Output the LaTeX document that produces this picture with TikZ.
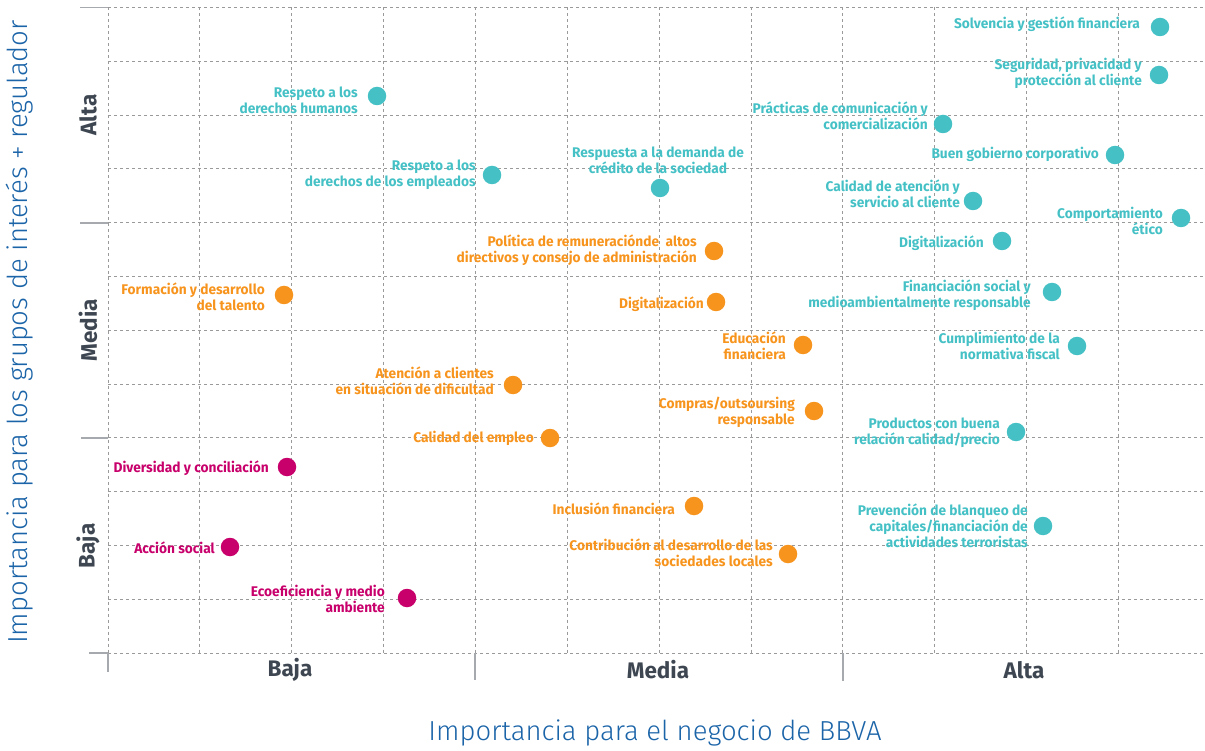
\documentclass[tikz,border=0pt]{standalone}
\usepackage{fontspec}
\setmainfont{Fira Sans}
\newfontfamily\labfont[FakeStretch=0.98]{Fira Sans}
\newfontfamily\axfont{Fira Sans}
\newfontfamily\ttlfont{Fira Sans Light}
\definecolor{cteal}{HTML}{45C1C6}
\definecolor{corange}{HTML}{F7941D}
\definecolor{cmag}{HTML}{C8006B}
\definecolor{cdark}{HTML}{3D4651}
\definecolor{cblue}{HTML}{1B64A8}
\definecolor{cgrid}{HTML}{9A9A9A}
\definecolor{ctick}{HTML}{A6A9AD}
\tikzset{
  gridline/.style={draw=cgrid, dash pattern=on 3pt off 3pt, line width=0.8pt},
  axtick/.style={draw=ctick, line width=1.6pt},
  bubble/.style={circle, minimum size=18.5pt, inner sep=0pt},
  tealb/.style={bubble, fill=cteal},
  orab/.style={bubble, fill=corange},
  magb/.style={bubble, fill=cmag},
  lab/.style={font=\labfont\bfseries\fontsize{14}{16}\selectfont, align=right, anchor=east, inner sep=0pt},
  teall/.style={lab, text=cteal},
  oral/.style={lab, text=corange},
  magl/.style={lab, text=cmag},
  axlab/.style={font=\axfont\bfseries\fontsize{22.5}{26}\selectfont, text=cdark, inner sep=0pt},
  ttl/.style={font=\ttlfont\fontsize{27.5}{32}\selectfont, text=cblue, inner sep=0pt}
}
\begin{document}
\begin{tikzpicture}[x=1pt,y=-1pt]
\useasboundingbox (0,0) rectangle (1205,751);
% grid
\foreach \i in {0,...,11} {
  \draw[gridline] ({108+91.85*\i},7.5) -- ({108+91.85*\i},653);
}
\foreach \j in {0,...,12} {
  \draw[gridline] (108,{7.5+53.79*\j}) -- (1205,{7.5+53.79*\j});
}
% axis ticks
\draw[axtick] (80,7.5) -- (108,7.5);
\draw[axtick] (80,223) -- (108,223);
\draw[axtick] (81,438) -- (108,438);
\draw[axtick] (89,653) -- (108,653);
\draw[axtick] (108,653) -- (108,672);
\draw[axtick] (475,653) -- (475,680);
\draw[axtick] (843,653) -- (843,681);
% axis labels
\node[axlab, rotate=90] (ya) at (88,115) {Alta};
\node[axlab, rotate=90] (ym) at (88,330) {Media};
\node[axlab, rotate=90] (yb) at (88,546) {Baja};
\node[axlab] (xb) at (290,670) {Baja};
\node[axlab] (xm) at (658,670) {Media};
\node[axlab] (xa) at (1024,670) {Alta};
% titles
\node[ttl] (xt) at (655,733) {Importancia para el negocio de BBVA};
\node[ttl, rotate=90] (yt) at (20,332) {Importancia para los grupos de interés + regulador};
% teal
\node[tealb] (d1) at (1160,27) {};
\node[teall] (l1) at (1140,24) {Solvencia y gestión financiera};
\node[tealb] (d2) at (1159,75) {};
\node[teall] (l2) at (1142,73) {Seguridad, privacidad y\\protección al cliente};
\node[tealb] (d3) at (943,124) {};
\node[teall] (l3) at (928,116) {Prácticas de comunicación y\\comercialización};
\node[tealb] (d4) at (1115,155) {};
\node[teall] (l4) at (1099,154) {Buen gobierno corporativo};
\node[tealb] (d5) at (973,201) {};
\node[teall] (l5) at (960,194) {Calidad de atención y\\servicio al cliente};
\node[tealb] (d6) at (1181,218) {};
\node[teall] (l6) at (1163,221) {Comportamiento\\ético};
\node[tealb] (d7) at (1002,241) {};
\node[teall] (l7) at (984,243) {Digitalización};
\node[tealb] (d8) at (1052,292) {};
\node[teall] (l8) at (1031,295) {Financiación social y\\medioambientalmente responsable};
\node[tealb] (d9) at (1077,346) {};
\node[teall] (l9) at (1060,346) {Cumplimiento de la\\normativa fiscal};
\node[tealb] (d10) at (1016,432) {};
\node[teall] (l10) at (1000,433) {Productos con buena\\relación calidad/precio};
\node[tealb] (d11) at (1043,526) {};
\node[teall] (l11) at (1028,526) {Prevención de blanqueo de\\capitales/financiación de\\actividades terroristas};
\node[tealb] (d12) at (377,96) {};
\node[teall] (l12) at (358,100) {Respeto a los\\derechos humanos};
\node[tealb] (d13) at (492,175) {};
\node[teall] (l13) at (476,175) {Respeto a los\\derechos de los empleados};
\node[tealb] (d14) at (660,188) {};
\node[teall, anchor=center, align=center] (l14) at (658,160) {Respuesta a la demanda de\\crédito de la sociedad};
% orange
\node[orab] (d15) at (714,251) {};
\node[oral] (l15) at (697,250) {Política de remuneraciónde\ \ altos\\directivos y consejo de administración};
\node[orab] (d16) at (284,295) {};
\node[oral] (l16) at (265,297) {Formación y desarrollo\\del talento};
\node[orab] (d17) at (716,302) {};
\node[oral] (l17) at (704,304) {Digitalización};
\node[orab] (d18) at (803,345) {};
\node[oral] (l18) at (786,346) {Educación\\financiera};
\node[orab] (d19) at (513,385) {};
\node[oral] (l19) at (494,381) {Atención a clientes\\en situación de dificultad};
\node[orab] (d20) at (814,411) {};
\node[oral] (l20) at (795,412) {Compras/outsoursing\\responsable};
\node[orab] (d21) at (550,438) {};
\node[oral] (l21) at (534,438) {Calidad del empleo};
\node[orab] (d22) at (694,506) {};
\node[oral] (l22) at (675,509) {Inclusión financiera};
\node[orab] (d23) at (788,554) {};
\node[oral] (l23) at (773,553) {Contribución al desarrollo de las\\sociedades locales};
% magenta
\node[magb] (d24) at (287,467) {};
\node[magl] (l24) at (269,468) {Diversidad y conciliación};
\node[magb] (d25) at (230,547) {};
\node[magl] (l25) at (215,548) {Acción social};
\node[magb] (d26) at (407,598) {};
\node[magl] (l26) at (385,599) {Ecoeficiencia y medio\\ambiente};
\end{tikzpicture}
\end{document}
